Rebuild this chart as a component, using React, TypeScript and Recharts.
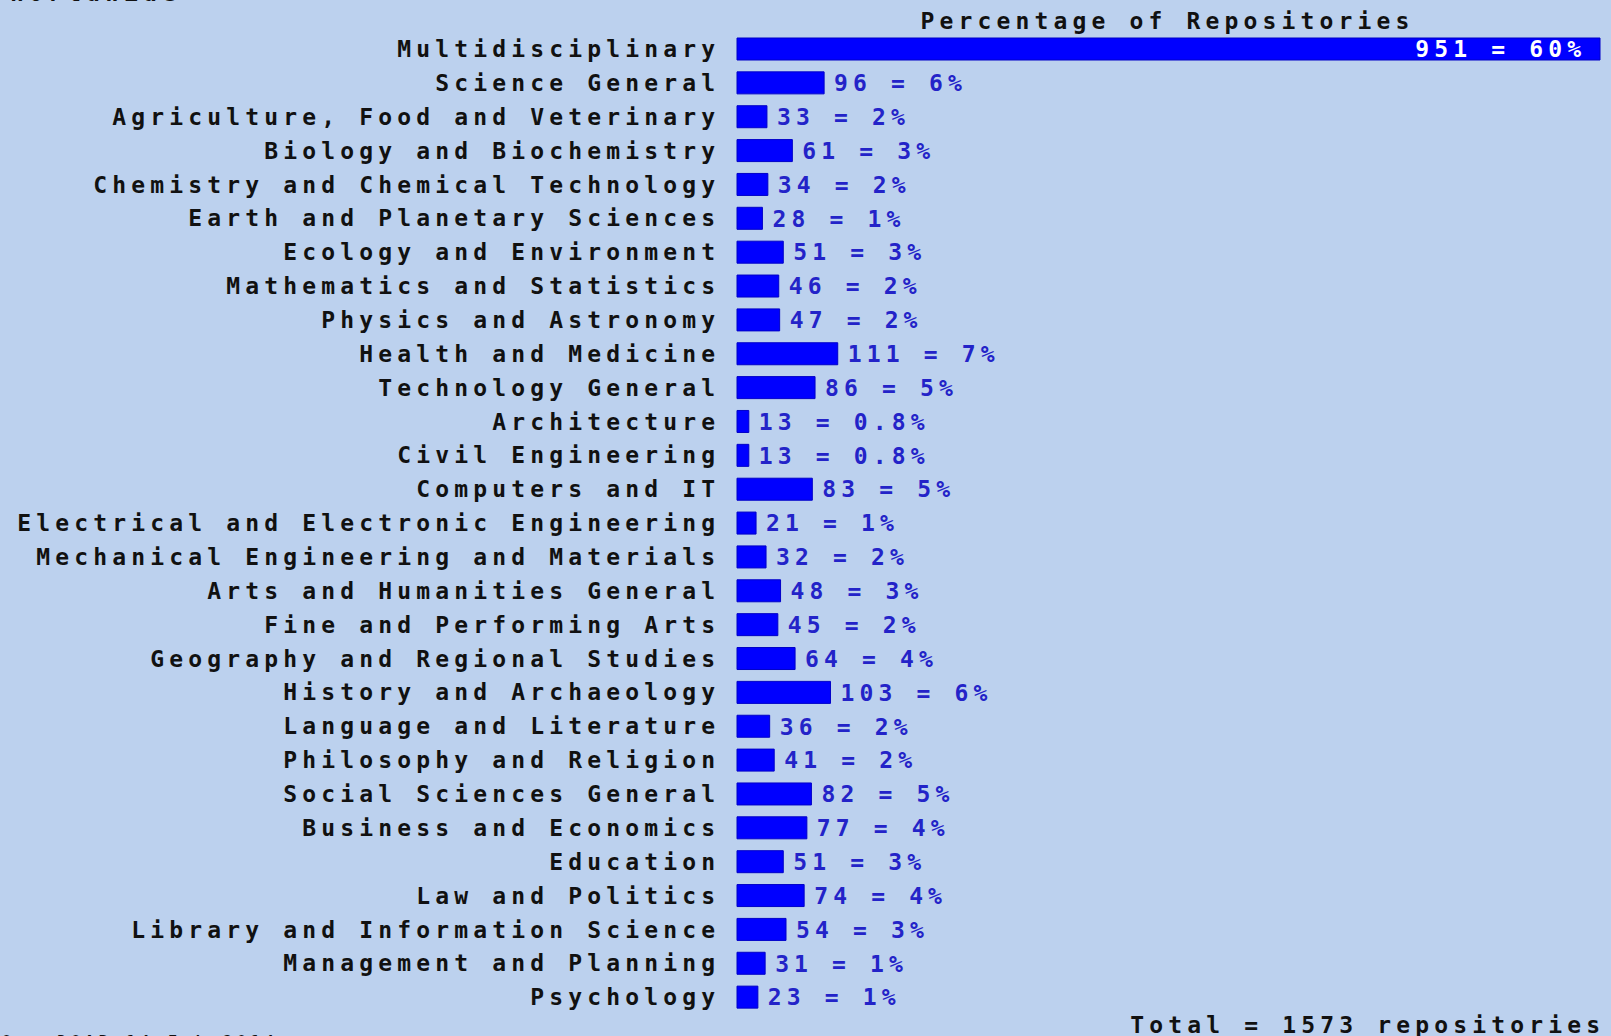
import React from "react";
import { BarChart, Bar, XAxis, YAxis, LabelList } from "recharts";

const categories = [
  "Multidisciplinary",
  "Science General",
  "Agriculture, Food and Veterinary",
  "Biology and Biochemistry",
  "Chemistry and Chemical Technology",
  "Earth and Planetary Sciences",
  "Ecology and Environment",
  "Mathematics and Statistics",
  "Physics and Astronomy",
  "Health and Medicine",
  "Technology General",
  "Architecture",
  "Civil Engineering",
  "Computers and IT",
  "Electrical and Electronic Engineering",
  "Mechanical Engineering and Materials",
  "Arts and Humanities General",
  "Fine and Performing Arts",
  "Geography and Regional Studies",
  "History and Archaeology",
  "Language and Literature",
  "Philosophy and Religion",
  "Social Sciences General",
  "Business and Economics",
  "Education",
  "Law and Politics",
  "Library and Information Science",
  "Management and Planning",
  "Psychology",
];

const counts = [
  951, 96, 33, 61, 34, 28, 51, 46, 47, 111, 86, 13, 13, 83, 21, 32, 48, 45, 64,
  103, 36, 41, 82, 77, 51, 74, 54, 31, 23,
];

const percents = [
  "60", "6", "2", "3", "2", "1", "3", "2", "2", "7", "5", "0.8", "0.8", "5",
  "1", "2", "3", "2", "4", "6", "2", "2", "5", "4", "3", "4", "3", "1", "1",
];

const total = 1573;

const data = categories.map((name, i) => ({
  name,
  count: counts[i],
  label: `${counts[i]} = ${percents[i]}%`,
}));

const FONT = '"DejaVu Sans Mono", monospace';
const SIZE = 23;
const SPACING = 5.15;
const BG = "#bcd1ee";

function ValueLabel(props: any) {
  const { x, y, width, height, index } = props;
  const d = data[index];
  const cy = y + height / 2;
  const inside = index === 0;
  return (
    <text
      x={inside ? x + width - 19 + SPACING : x + width + 10}
      y={cy}
      dy="0.36em"
      textAnchor={inside ? "end" : "start"}
      fill={inside ? "#ffffff" : "#2323c8"}
      fontFamily={FONT}
      fontWeight="bold"
      fontSize={SIZE}
      letterSpacing={SPACING}
    >
      {d.label}
    </text>
  );
}

const textStyle: React.CSSProperties = {
  position: "absolute",
  fontFamily: FONT,
  fontWeight: "bold",
  fontSize: SIZE,
  letterSpacing: SPACING,
  color: "#111",
  whiteSpace: "nowrap",
  lineHeight: "23px",
};

export default function App() {
  return (
    <div
      style={{
        position: "absolute",
        left: 0,
        top: 0,
        width: 1611,
        height: 1036,
        background: BG,
        overflow: "hidden",
      }}
    >
      <div style={{ ...textStyle, left: 10, top: -18 }}>Worldwide</div>
      <div
        style={{ ...textStyle, left: 0, width: 2335, textAlign: "center", top: 10 }}
      >
        Percentage of Repositories
      </div>
      <BarChart
        width={1611}
        height={1036}
        data={data}
        layout="vertical"
        margin={{ top: 32, right: 11, bottom: 22, left: 0 }}
      >
        <XAxis type="number" domain={[0, 951]} hide />
        <YAxis
          type="category"
          dataKey="name"
          width={737}
          axisLine={false}
          tickLine={false}
          interval={0}
          tickMargin={16 - SPACING}
          tick={{
            fill: "#111",
            fontFamily: FONT,
            fontWeight: "bold",
            fontSize: SIZE,
            letterSpacing: SPACING,
          }}
        />
        <Bar
          dataKey="count"
          fill="#0000ff"
          stroke="#0000c8"
          strokeWidth={1}
          barSize={22}
          isAnimationActive={false}
        >
          <LabelList dataKey="label" content={<ValueLabel />} />
        </Bar>
      </BarChart>
      <div style={{ ...textStyle, right: 11 - SPACING, top: 1014 }}>
        Total = {total} repositories
      </div>
      <div
        style={{
          ...textStyle,
          fontSize: 15,
          letterSpacing: 4.8,
          left: 2,
          top: 1031,
        }}
      >
        OpenDOAR 14-Feb-2014
      </div>
    </div>
  );
}
